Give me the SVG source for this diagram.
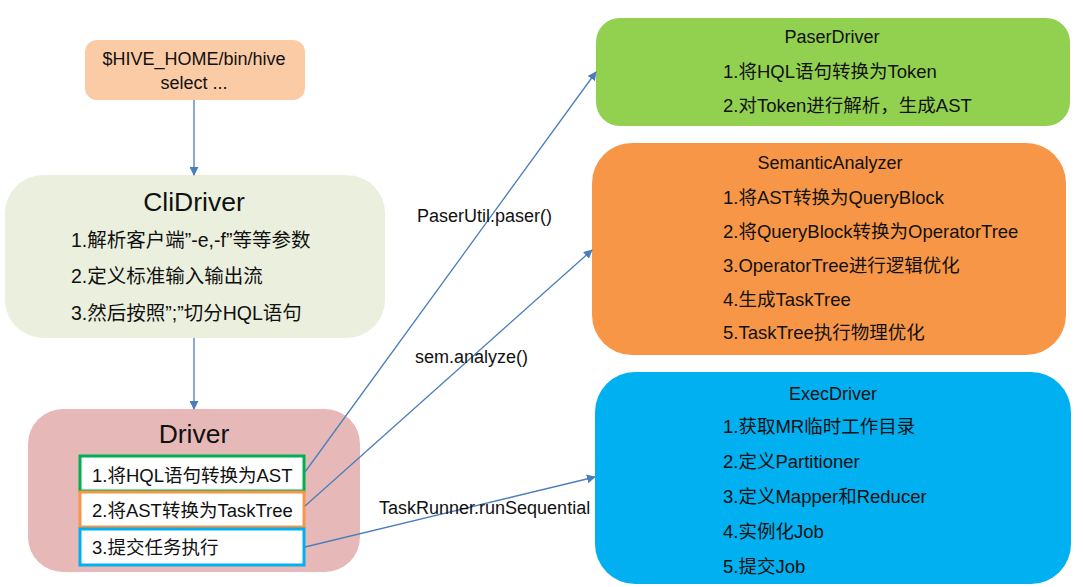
<svg xmlns="http://www.w3.org/2000/svg" width="1083" height="587" viewBox="0 0 1083 587">
<defs>
<marker id="ah" viewBox="0 0 10 10" refX="9" refY="5" markerWidth="9" markerHeight="9" markerUnits="userSpaceOnUse" orient="auto">
<path d="M0,0 L10,5 L0,10 z" fill="#4A7EBB"/>
</marker>
<style>
text{font-family:"Liberation Sans","Noto Sans CJK SC",sans-serif;fill:#111}
.t{font-size:18.5px}
.h{font-size:18px}
.cl{font-size:19.5px}
.big{font-size:26.5px}
.m{font-size:18px}
.c{text-anchor:middle}
.conn{stroke:#4A7EBB;stroke-width:1.3;fill:none}
</style>
</defs>
<rect width="1083" height="587" fill="#fff"/>
<g id="hive">
<rect x="85" y="40" width="220" height="60" rx="12" fill="#FBCBA5"/>
<text class="h c" x="194" y="65">$HIVE_HOME/bin/hive</text>
<text class="h c" x="194" y="89">select ...</text>
</g>
<g id="clidriver">
<rect x="5" y="175" width="380" height="163" rx="38" fill="#EBF0DE"/>
<text class="big c" x="194" y="211">CliDriver</text>
<text class="cl" x="71" y="247">1.解析客户端”-e,-f”等等参数</text>
<text class="cl" x="71" y="283">2.定义标准输入输出流</text>
<text class="cl" x="71" y="320">3.然后按照”;”切分HQL语句</text>
</g>
<g id="driver">
<rect x="28" y="409" width="332" height="163" rx="35" fill="#E6B9B8"/>
<text class="big c" x="194" y="443">Driver</text>
<rect x="80" y="456" width="224" height="35" fill="#fff" stroke="#00B050" stroke-width="3"/>
<rect x="80" y="492" width="224" height="35" fill="#fff" stroke="#F79646" stroke-width="3"/>
<rect x="80" y="529" width="224" height="36" fill="#fff" stroke="#00B0F0" stroke-width="3"/>
<text class="t" x="92" y="482">1.将HQL语句转换为AST</text>
<text class="t" x="92" y="517">2.将AST转换为TaskTree</text>
<text class="t" x="92" y="554">3.提交任务执行</text>
</g>
<g id="paserdriver">
<rect x="596" y="18" width="474" height="108" rx="24" fill="#92D050"/>
<text class="m c" x="832" y="43">PaserDriver</text>
<text class="t" x="723" y="78">1.将HQL语句转换为Token</text>
<text class="t" x="723" y="112">2.对Token进行解析，生成AST</text>
</g>
<g id="semantic">
<rect x="592" y="143" width="474" height="212" rx="40" fill="#F79646"/>
<text class="m c" x="830" y="169">SemanticAnalyzer</text>
<text class="t" x="723" y="204">1.将AST转换为QueryBlock</text>
<text class="t" x="723" y="238">2.将QueryBlock转换为OperatorTree</text>
<text class="t" x="723" y="272">3.OperatorTree进行逻辑优化</text>
<text class="t" x="723" y="306">4.生成TaskTree</text>
<text class="t" x="723" y="339">5.TaskTree执行物理优化</text>
</g>
<g id="execdriver">
<rect x="595" y="372" width="476" height="212" rx="40" fill="#00B0F0"/>
<text class="m c" x="833" y="400">ExecDriver</text>
<text class="t" x="723" y="433">1.获取MR临时工作目录</text>
<text class="t" x="723" y="468">2.定义Partitioner</text>
<text class="t" x="723" y="503">3.定义Mapper和Reducer</text>
<text class="t" x="723" y="538">4.实例化Job</text>
<text class="t" x="723" y="573">5.提交Job</text>
</g>
<g id="connectors">
<line class="conn" x1="194" y1="100" x2="194" y2="175" marker-end="url(#ah)"/>
<line class="conn" x1="194" y1="338" x2="194" y2="409" marker-end="url(#ah)"/>
<line class="conn" x1="305" y1="472" x2="596" y2="72" marker-end="url(#ah)"/>
<line class="conn" x1="305" y1="506" x2="592" y2="250" marker-end="url(#ah)"/>
<line class="conn" x1="305" y1="547" x2="595" y2="477" marker-end="url(#ah)"/>
<text class="m" x="417" y="222">PaserUtil.paser()</text>
<text class="m" x="415" y="363">sem.analyze()</text>
<text class="m" x="379" y="514">TaskRunner.runSequential</text>
</g>
</svg>
